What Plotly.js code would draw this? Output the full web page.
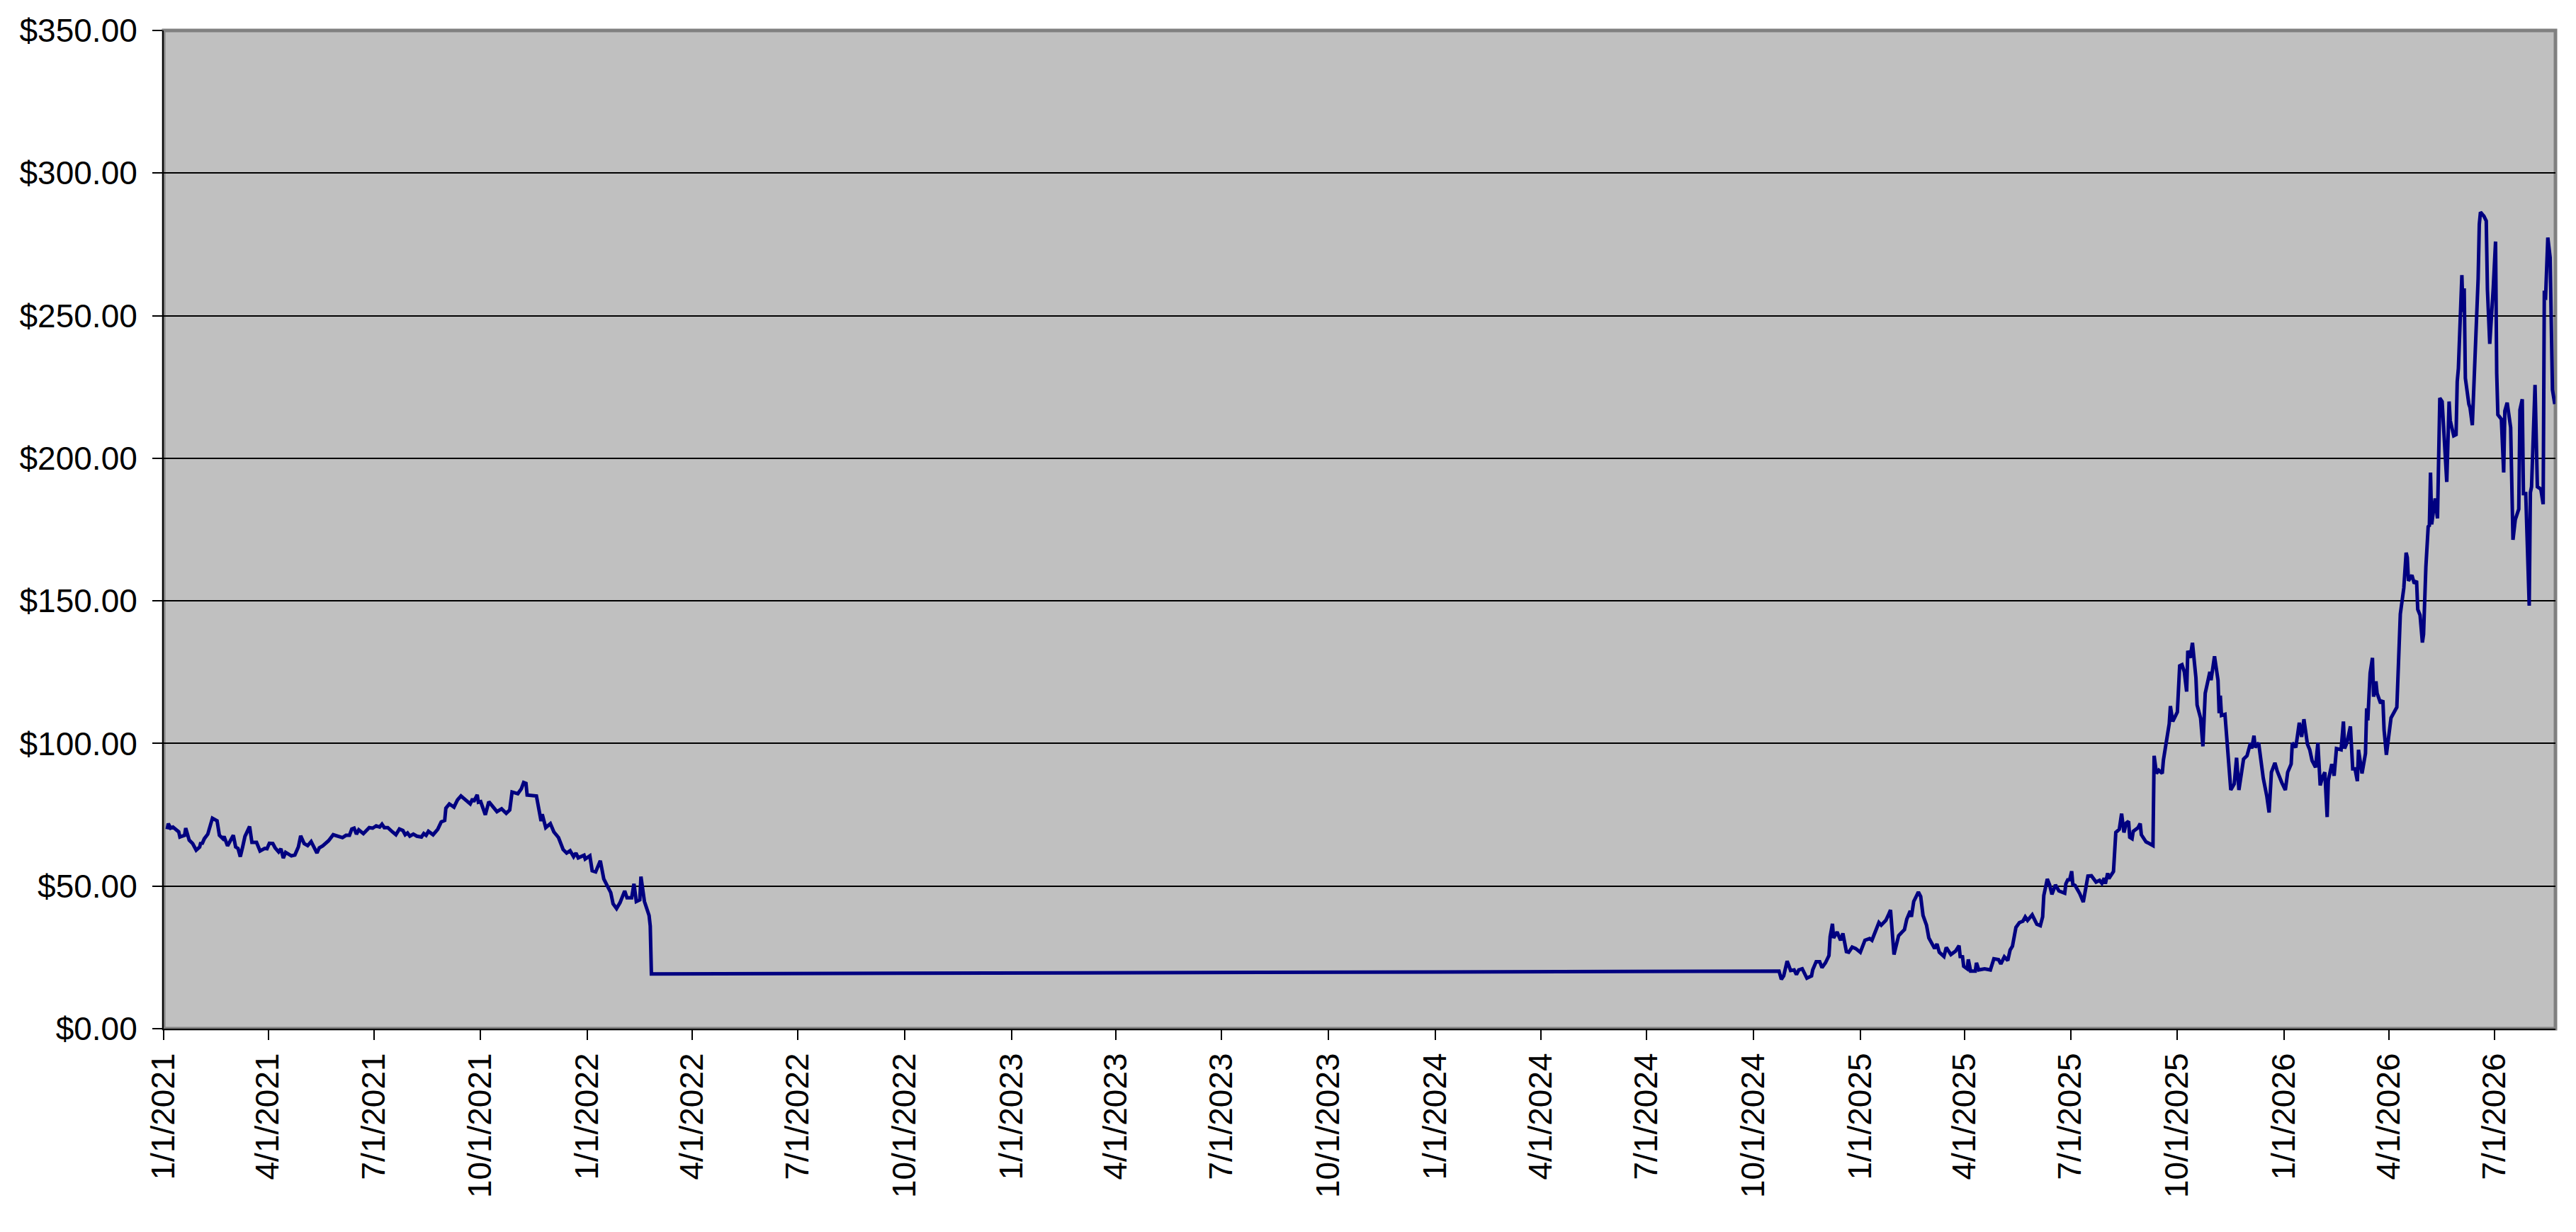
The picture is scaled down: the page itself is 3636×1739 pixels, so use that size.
<!DOCTYPE html>
<html>
<head>
<meta charset="utf-8">
<script src="https://cdn.plot.ly/plotly-3.0.1.min.js"></script>
<style>
  html, body { margin: 0; padding: 0; background: #ffffff; }
  #myPlot { width: 3636px; height: 1739px; }
</style>
</head>
<body>
<div id="myPlot"></div>
<script>
// first stretch of closes, Jan 2021 - Feb 2022
let earlyDates = [
  '2021-01-04','2021-01-05','2021-01-07','2021-01-09','2021-01-14','2021-01-15','2021-01-19','2021-01-20',
  '2021-01-23','2021-01-26','2021-01-29','2021-02-01','2021-02-02','2021-02-03','2021-02-05','2021-02-08',
  '2021-02-12','2021-02-16','2021-02-18','2021-02-21','2021-02-22','2021-02-25','2021-03-02','2021-03-04',
  '2021-03-06','2021-03-08','2021-03-10','2021-03-12','2021-03-16','2021-03-18','2021-03-22','2021-03-25',
  '2021-03-29','2021-03-31','2021-04-02','2021-04-05','2021-04-07','2021-04-10','2021-04-12','2021-04-14',
  '2021-04-16','2021-04-21','2021-04-24','2021-04-27','2021-04-29','2021-05-02','2021-05-05','2021-05-08',
  '2021-05-13','2021-05-15','2021-05-18','2021-05-23','2021-05-27','2021-06-01','2021-06-04','2021-06-07',
  '2021-06-10','2021-06-12','2021-06-14','2021-06-16','2021-06-18','2021-06-22','2021-06-27','2021-06-30',
  '2021-07-03','2021-07-06','2021-07-08','2021-07-10','2021-07-13','2021-07-17','2021-07-20','2021-07-23',
  '2021-07-26','2021-07-28','2021-07-30','2021-08-01','2021-08-04','2021-08-07','2021-08-11','2021-08-13',
  '2021-08-15','2021-08-17','2021-08-21','2021-08-25','2021-08-28','2021-08-31','2021-09-01','2021-09-04',
  '2021-09-08','2021-09-11','2021-09-14','2021-09-18','2021-09-22','2021-09-24','2021-09-25','2021-09-28',
  '2021-09-29','2021-10-01','2021-10-05','2021-10-08','2021-10-12','2021-10-15','2021-10-19','2021-10-23',
  '2021-10-26','2021-10-28','2021-11-02','2021-11-05','2021-11-07','2021-11-09','2021-11-10','2021-11-13',
  '2021-11-18','2021-11-22','2021-11-23','2021-11-26','2021-11-30','2021-12-03','2021-12-07','2021-12-11',
  '2021-12-14','2021-12-17','2021-12-20','2021-12-22','2021-12-24','2021-12-29','2021-12-30','2022-01-03',
  '2022-01-05','2022-01-08','2022-01-12','2022-01-15','2022-01-21','2022-01-23','2022-01-26','2022-01-29',
  '2022-02-02','2022-02-04','2022-02-08','2022-02-10','2022-02-12','2022-02-15','2022-02-16','2022-02-19',
  '2022-02-23','2022-02-24','2022-02-25'
];
let earlyPrices = [
  69.9,71.9,70.3,70.7,69.0,67.2,67.8,70.3,
  66.1,64.9,62.6,63.7,65.3,64.7,66.6,68.2,
  73.8,72.9,67.8,66.6,67.4,64.1,67.8,63.7,
  63.2,60.3,63.7,67.4,70.9,65.3,65.3,62.3,
  63.2,63.1,65.0,64.9,63.4,62.0,63.1,59.8,
  61.8,60.6,60.9,63.7,67.6,64.9,64.2,65.6,
  61.6,63.4,64.1,65.9,68.0,67.4,67.0,67.8,
  67.8,70.0,70.3,68.2,69.7,68.4,70.5,70.3,
  71.1,70.7,71.7,70.5,70.5,69.0,68.0,70.0,
  69.5,68.0,68.6,67.5,68.2,67.5,67.2,68.4,
  67.8,69.2,68.0,69.9,72.5,73.0,77.3,78.8,
  77.7,80.2,81.6,80.2,78.8,80.6,79.6,82.0,
  79.4,79.6,75.0,79.6,77.3,76.1,77.1,75.5,
  76.7,83.0,82.4,84.1,86.3,86.0,81.9,81.9,
  81.6,72.8,75.2,70.5,71.9,69.0,67.0,62.8,
  61.6,62.4,60.3,61.6,59.9,60.8,59.5,60.6,
  55.4,55.0,58.9,52.5,47.7,43.8,42.1,44.2,
  48.3,45.9,45.9,50.8,44.6,45.2,53.3,44.6,
  39.7,36.0,19.2
];

// second stretch, Oct 2024 - Aug 2026
let lateDates = [
  '2024-10-23','2024-10-25','2024-10-27','2024-10-30','2024-11-02','2024-11-05','2024-11-07','2024-11-09',
  '2024-11-12','2024-11-16','2024-11-20','2024-11-21','2024-11-24','2024-11-27','2024-11-29','2024-12-02',
  '2024-12-05','2024-12-06','2024-12-08','2024-12-09','2024-12-12','2024-12-15','2024-12-17','2024-12-20',
  '2024-12-22','2024-12-25','2024-12-28','2025-01-01','2025-01-05','2025-01-09','2025-01-11','2025-01-14',
  '2025-01-17','2025-01-19','2025-01-23','2025-01-25','2025-01-27','2025-01-30','2025-02-01','2025-02-03',
  '2025-02-06','2025-02-08','2025-02-10','2025-02-13','2025-02-14','2025-02-16','2025-02-20','2025-02-22',
  '2025-02-24','2025-02-27','2025-03-01','2025-03-05','2025-03-06','2025-03-08','2025-03-10','2025-03-14',
  '2025-03-16','2025-03-20','2025-03-24','2025-03-27','2025-03-28','2025-03-30','2025-03-31','2025-04-03',
  '2025-04-04','2025-04-06','2025-04-10','2025-04-11','2025-04-13','2025-04-18','2025-04-23','2025-04-26',
  '2025-04-30','2025-05-02','2025-05-05','2025-05-08','2025-05-10','2025-05-12','2025-05-15','2025-05-18',
  '2025-05-21','2025-05-23','2025-05-25','2025-05-29','2025-06-02','2025-06-05','2025-06-07','2025-06-08',
  '2025-06-11','2025-06-13','2025-06-15','2025-06-18','2025-06-21','2025-06-26','2025-06-27','2025-06-29',
  '2025-06-30','2025-07-02','2025-07-03','2025-07-05','2025-07-09','2025-07-12','2025-07-16','2025-07-19',
  '2025-07-23','2025-07-26','2025-07-28','2025-07-30','2025-07-31','2025-08-02','2025-08-03','2025-08-07',
  '2025-08-09','2025-08-12','2025-08-14','2025-08-16','2025-08-18','2025-08-20','2025-08-21','2025-08-23',
  '2025-08-24','2025-08-28','2025-08-30','2025-08-31','2025-09-04','2025-09-07','2025-09-10','2025-09-11',
  '2025-09-13','2025-09-15','2025-09-18','2025-09-19','2025-09-21','2025-09-24','2025-09-25','2025-09-27',
  '2025-10-01','2025-10-03','2025-10-05','2025-10-07','2025-10-09','2025-10-10','2025-10-12','2025-10-14',
  '2025-10-17','2025-10-18','2025-10-21','2025-10-23','2025-10-25','2025-10-29','2025-10-30','2025-11-02',
  '2025-11-05','2025-11-06','2025-11-07','2025-11-08','2025-11-11','2025-11-14','2025-11-16','2025-11-19',
  '2025-11-21','2025-11-23','2025-11-25','2025-11-27','2025-11-30','2025-12-03','2025-12-04','2025-12-06',
  '2025-12-07','2025-12-10','2025-12-12','2025-12-14','2025-12-17','2025-12-19','2025-12-21','2025-12-24',
  '2025-12-26','2025-12-28','2025-12-30','2026-01-02','2026-01-04','2026-01-07','2026-01-08','2026-01-11',
  '2026-01-14','2026-01-16','2026-01-18','2026-01-21','2026-01-23','2026-01-25','2026-01-28','2026-01-30',
  '2026-02-01','2026-02-03','2026-02-05','2026-02-07','2026-02-08','2026-02-11','2026-02-13','2026-02-15',
  '2026-02-17','2026-02-19','2026-02-21','2026-02-22','2026-02-24','2026-02-27','2026-03-01','2026-03-03',
  '2026-03-05','2026-03-06','2026-03-09','2026-03-12','2026-03-13','2026-03-14','2026-03-16','2026-03-18',
  '2026-03-19','2026-03-21','2026-03-22','2026-03-25','2026-03-27','2026-03-28','2026-03-30','2026-04-01',
  '2026-04-03','2026-04-08','2026-04-09','2026-04-11','2026-04-14','2026-04-16','2026-04-17','2026-04-18',
  '2026-04-21','2026-04-23','2026-04-25','2026-04-26','2026-04-28','2026-04-30','2026-05-01','2026-05-03',
  '2026-05-05','2026-05-06','2026-05-07','2026-05-08','2026-05-10','2026-05-11','2026-05-13','2026-05-15',
  '2026-05-17','2026-05-19','2026-05-21','2026-05-23','2026-05-24','2026-05-27','2026-05-29','2026-05-30',
  '2026-05-31','2026-06-03','2026-06-04','2026-06-05','2026-06-06','2026-06-09','2026-06-10','2026-06-12',
  '2026-06-17','2026-06-18','2026-06-19','2026-06-22','2026-06-24','2026-06-25','2026-06-27','2026-06-30',
  '2026-07-02','2026-07-03','2026-07-04','2026-07-07','2026-07-09','2026-07-10','2026-07-12','2026-07-15',
  '2026-07-16','2026-07-17','2026-07-19','2026-07-22','2026-07-23','2026-07-25','2026-07-26','2026-07-28',
  '2026-07-31','2026-08-01','2026-08-02','2026-08-05','2026-08-07','2026-08-10','2026-08-12','2026-08-13',
  '2026-08-14','2026-08-16','2026-08-18','2026-08-20','2026-08-22'
];
let latePrices = [
  20.2,17.3,18.5,23.7,20.4,20.6,19.0,20.6,
  21.0,17.7,18.5,20.6,23.5,23.5,21.4,23.1,
  25.6,32.2,36.8,31.8,33.9,31.0,33.4,27.0,
  26.8,28.6,28.1,26.8,31.0,31.6,31.0,33.9,
  37.2,36.3,38.0,39.7,41.6,26.0,29.7,32.6,
  33.9,34.7,38.4,41.3,39.2,44.6,47.9,46.3,
  39.7,36.3,31.8,28.9,28.1,29.7,26.8,25.3,
  28.5,26.0,27.2,29.1,25.3,25.2,21.9,21.0,
  24.3,20.2,20.2,23.1,20.6,21.0,20.6,24.5,
  24.2,22.7,25.2,23.9,27.6,28.9,35.5,37.2,
  37.7,39.2,38.0,39.9,36.6,36.1,39.2,46.7,
  52.5,50.4,47.1,50.4,48.3,47.5,50.8,52.5,
  51.8,55.2,50.6,50.2,47.3,44.4,53.5,53.6,
  51.4,52.0,51.0,52.8,50.8,54.5,52.6,55.1,
  68.8,69.9,75.4,68.8,72.1,72.7,67.1,66.6,
  69.2,70.4,71.9,68.0,65.5,64.9,64.2,95.7,
  89.5,90.6,89.5,94.2,99.8,106.9,113.1,107.7,
  111.0,127.2,127.6,125.1,118.2,132.5,130.0,135.3,
  123.0,113.5,108.9,99.0,117.6,125.1,122.2,130.6,
  122.2,110.6,116.8,109.8,110.2,95.7,83.7,85.8,
  95.0,83.7,89.9,94.5,95.7,100.2,98.2,102.7,
  98.6,100.2,94.0,87.8,81.6,75.8,89.9,93.2,
  90.3,87.8,86.2,83.7,89.9,92.8,100.2,98.6,
  107.3,102.3,108.5,99.8,97.8,94.0,91.6,100.2,
  85.3,88.2,89.9,74.2,87.0,92.8,88.7,98.2,
  98.0,97.8,107.7,98.2,100.2,106.0,91.1,91.1,
  86.8,97.8,89.5,96.5,112.3,108.1,124.7,130.0,
  116.4,121.8,117.6,114.1,115.1,104.8,96.0,104.0,
  109.0,112.7,124.7,145.4,154.5,166.9,165.2,157.0,
  159.0,156.1,157.0,147.0,145.0,135.4,138.3,161.9,
  176.0,176.4,195.0,176.8,183.0,185.9,178.9,221.1,
  219.9,205.0,191.7,219.9,213.2,207.9,208.3,226.9,
  231.5,264.2,251.3,259.6,228.1,219.0,217.8,211.6,
  262.9,282.0,286.3,284.9,283.2,259.2,240.1,259.6,
  276.0,229.8,215.3,213.7,195.0,216.6,219.5,210.8,
  195.0,171.4,178.5,182.2,217.0,220.7,187.6,187.6,
  148.3,188.0,190.0,225.7,190.0,189.2,183.9,258.8,
  255.5,277.4,270.4,224.0,219.0
];

// quarterly axis labels
let tickDates = [
  '2021-01-01','2021-04-01','2021-07-01','2021-10-01','2022-01-01','2022-04-01','2022-07-01','2022-10-01',
  '2023-01-01','2023-04-01','2023-07-01','2023-10-01','2024-01-01','2024-04-01','2024-07-01','2024-10-01',
  '2025-01-01','2025-04-01','2025-07-01','2025-10-01','2026-01-01','2026-04-01','2026-07-01'
];
let tickLabels = [
  '1/1/2021','4/1/2021','7/1/2021','10/1/2021','1/1/2022','4/1/2022','7/1/2022','10/1/2022',
  '1/1/2023','4/1/2023','7/1/2023','10/1/2023','1/1/2024','4/1/2024','7/1/2024','10/1/2024',
  '1/1/2025','4/1/2025','7/1/2025','10/1/2025','1/1/2026','4/1/2026','7/1/2026'
];

let data = [{
  x: earlyDates.concat(lateDates),
  y: earlyPrices.concat(latePrices),
  mode: 'lines',
  line: {color: '#000080', width: 5},
  hoverinfo: 'x+y'
}];

let font = {family: '"Liberation Sans", Arial, sans-serif', size: 46, color: '#000000'};

let layout = {
  width: 3636,
  height: 1739,
  margin: {l: 231, r: 29, t: 43, b: 287},
  paper_bgcolor: '#ffffff',
  plot_bgcolor: '#c0c0c0',
  showlegend: false,
  font: font,
  xaxis: {
    type: 'date',
    range: ['2021-01-01', lateDates[lateDates.length - 1] + ' 14:00'],
    tickmode: 'array',
    tickvals: tickDates,
    ticktext: tickLabels,
    tickangle: -90,
    ticks: 'outside',
    ticklen: 14,
    tickwidth: 2,
    tickcolor: '#000000',
    showgrid: false,
    zeroline: false,
    showline: true,
    linecolor: '#000000',
    linewidth: 2,
    tickfont: font
  },
  yaxis: {
    range: [0, 350],
    dtick: 50,
    tick0: 0,
    tickformat: '$,.2f',
    ticks: 'outside',
    ticklen: 14,
    tickwidth: 2,
    tickcolor: '#000000',
    ticklabelstandoff: 12,
    showgrid: true,
    gridcolor: '#000000',
    gridwidth: 2,
    zeroline: false,
    showline: true,
    linecolor: '#000000',
    linewidth: 2,
    tickfont: font
  },
  shapes: [{
    type: 'rect', xref: 'paper', yref: 'paper',
    x0: 0, x1: 1, y0: 0, y1: 1,
    line: {color: '#808080', width: 5},
    layer: 'below'
  }]
};

Plotly.newPlot('myPlot', data, layout, {displayModeBar: false, staticPlot: true});
</script>
</body>
</html>
